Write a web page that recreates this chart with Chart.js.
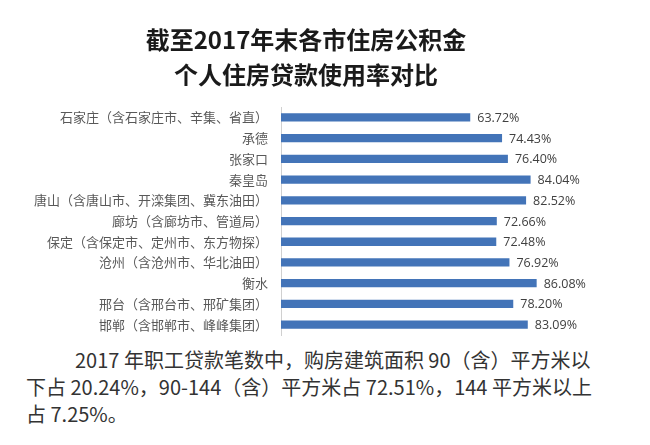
<!DOCTYPE html>
<html lang="zh-CN">
<head>
<meta charset="utf-8">
<script src="https://cdn.jsdelivr.net/npm/chart.js@4/dist/chart.umd.min.js"></script>
<style>
    html, body { margin: 0; padding: 0; background: #ffffff; }
    .page { position: relative; width: 650px; height: 445px; overflow: hidden; }
    .chart-box { position: absolute; left: 0; top: 0; width: 650px; height: 340px; }
    .note { position: absolute; left: 0; top: 346px; width: 650px;
        font-family: 'Noto Sans CJK SC', sans-serif; font-size: 20px; line-height: 27px; color: #333333; }
    .note div { white-space: nowrap; }
</style>
</head>
<body>
<div class="page">
    <div class="chart-box"><canvas id="rateChart"></canvas></div>
    <div class="note">
        <div style="padding-left:75px">2017 年职工贷款笔数中，购房建筑面积 90（含）平方米以</div>
        <div style="padding-left:26px">下占 20.24%，90-144（含）平方米占 72.51%，144 平方米以上</div>
        <div style="padding-left:26px">占 7.25%。</div>
    </div>
</div>
<script>
const titleLines = ['截至2017年末各市住房公积金', '个人住房贷款使用率对比'];

const cities = [
    '石家庄（含石家庄市、辛集、省直）',
    '承德',
    '张家口',
    '秦皇岛',
    '唐山（含唐山市、开滦集团、冀东油田）',
    '廊坊（含廊坊市、管道局）',
    '保定（含保定市、定州市、东方物探）',
    '沧州（含沧州市、华北油田）',
    '衡水',
    '邢台（含邢台市、邢矿集团）',
    '邯郸（含邯郸市、峰峰集团）'
];

const useRates = [63.72, 74.43, 76.40, 84.04, 82.52, 72.66, 72.48, 76.92, 86.08, 78.20, 83.09];

document.addEventListener('DOMContentLoaded', () => {
    // percent text to the right of each bar
    const valueLabels = {
        id: 'valueLabels',
        afterDatasetsDraw(chart) {
            const ctx = chart.ctx;
            const meta = chart.getDatasetMeta(0);
            ctx.save();
            ctx.font = "12.5px 'Open Sans', sans-serif";
            ctx.fillStyle = '#404040';
            ctx.textAlign = 'left';
            ctx.textBaseline = 'middle';
            meta.data.forEach((bar, i) => {
                ctx.fillText(useRates[i].toFixed(2) + '%', bar.x + 7, bar.y + 1);
            });
            ctx.restore();
        }
    };

    const ctx = document.getElementById('rateChart').getContext('2d');
    new Chart(ctx, {
        type: 'bar',
        data: {
            labels: cities,
            datasets: [{
                data: useRates,
                backgroundColor: '#4374b8',
                borderWidth: 0,
                barPercentage: 0.8,
                categoryPercentage: 0.5
            }]
        },
        options: {
            indexAxis: 'y',
            responsive: true,
            maintainAspectRatio: false,
            animation: false,
            layout: {
                padding: { left: 34, right: 72, top: 22, bottom: 5 }
            },
            plugins: {
                legend: { display: false },
                tooltip: { enabled: false },
                title: {
                    display: true,
                    text: titleLines,
                    color: '#1a1a1a',
                    font: { family: "'Noto Sans CJK SC', sans-serif", size: 24, weight: 'bold', lineHeight: 1.46 },
                    padding: { top: 0, bottom: 15 }
                }
            },
            scales: {
                x: {
                    display: false,
                    min: 0,
                    max: 100
                },
                y: {
                    afterFit: (scale) => {
                        scale.width = 247;
                        // no extra room for the first/last label, the axis runs the full height
                        scale.paddingTop = 0;
                        scale.paddingBottom = 0;
                    },
                    grid: { display: false, drawTicks: false },
                    border: { display: true, color: '#d0d0d0', width: 1 },
                    ticks: {
                        padding: 13,
                        color: '#595959',
                        font: { family: "'Noto Sans CJK SC', sans-serif", size: 13 }
                    }
                }
            }
        },
        plugins: [valueLabels]
    });
});
</script>
</body>
</html>
